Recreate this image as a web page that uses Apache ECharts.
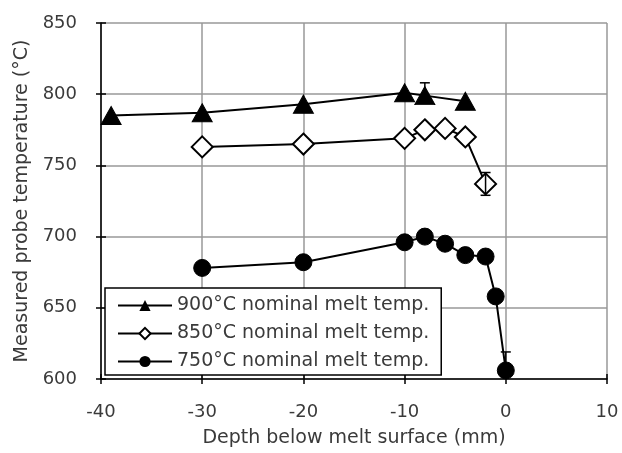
<!DOCTYPE html>
<html>
<head>
<meta charset="utf-8">
<script src="https://cdn.jsdelivr.net/npm/echarts@6/dist/echarts.min.js"></script>
<style>
  html, body { margin: 0; padding: 0; background: #fff; }
  #chart { width: 622px; height: 453px; }
</style>
</head>
<body>
<div id="chart"></div>
<script>
// 数据
var seriesNames = ['900°C nominal melt temp.', '850°C nominal melt temp.', '750°C nominal melt temp.'];
var depth900 = [-39, -30, -20, -10, -8, -4];
var temp900 = [785, 787, 793, 801, 799, 795];
var depth850 = [-30, -20, -10, -8, -6, -4, -2];
var temp850 = [763, 765, 769, 775, 776, 770, 737];
var depth750 = [-30, -20, -10, -8, -6, -4, -2, -1, 0];
var temp750 = [678, 682, 696, 700, 695, 687, 686, 658, 606];
// 误差线 [x, 下限, 上限]
var errBars = [[-8, 797, 808], [-2, 729, 745], [-1, 655, 662], [0, 604, 619]];

function pairs(xs, ys) {
    return xs.map(function (x, i) { return [x, ys[i]]; });
}

var myChart = echarts.init(document.getElementById('chart'));
var font = '"DejaVu Sans", sans-serif';
var txt = '#3a3a3a';

var option = {
    animation: false,
    textStyle: { fontFamily: font },
    grid: { left: 101, right: 15, top: 23, bottom: 73 },
    legend: {
        orient: 'vertical',
        left: 105,
        top: 288,
        padding: [8, 12, 4, 12],
        borderColor: '#000',
        borderWidth: 1.5,
        backgroundColor: '#fff',
        itemWidth: 54,
        itemHeight: 14,
        itemGap: 9,
        textStyle: { fontSize: 19, color: txt, fontFamily: font },
        data: seriesNames
    },
    xAxis: [{
        type: 'value', min: -40, max: 10, interval: 10,
        name: 'Depth below melt surface (mm)',
        nameLocation: 'middle', nameGap: 50,
        nameTextStyle: { fontSize: 19, color: txt },
        axisLine: { onZero: false, lineStyle: { color: '#000', width: 1.5 } },
        axisTick: { length: 5, lineStyle: { color: '#000', width: 1.5 } },
        axisLabel: { fontSize: 18, color: txt, margin: 24 },
        splitLine: { lineStyle: { color: '#999', width: 1.5 } }
    }, {
        type: 'value', min: -40, max: 10, interval: 10, position: 'bottom',
        axisLine: { show: false, onZero: false },
        axisTick: { inside: true, length: 5, lineStyle: { color: '#000', width: 1.5 } },
        axisLabel: { show: false },
        splitLine: { show: false }
    }],
    yAxis: [{
        type: 'value', min: 600, max: 850, interval: 50,
        name: 'Measured probe temperature (°C)',
        nameLocation: 'middle', nameGap: 68,
        nameTextStyle: { fontSize: 19, color: txt },
        axisLine: { show: true, onZero: false, lineStyle: { color: '#000', width: 1.5 } },
        axisTick: { show: true, length: 5, lineStyle: { color: '#000', width: 1.5 } },
        axisLabel: { fontSize: 18, color: txt, margin: 24 },
        splitLine: { lineStyle: { color: '#999', width: 1.5 } }
    }, {
        type: 'value', min: 600, max: 850, interval: 50, position: 'left',
        axisLine: { show: false, onZero: false },
        axisTick: { show: true, inside: true, length: 5, lineStyle: { color: '#000', width: 1.5 } },
        axisLabel: { show: false },
        splitLine: { show: false }
    }],
    series: [
        {
            name: seriesNames[0], type: 'line',
            data: pairs(depth900, temp900),
            symbol: 'triangle', symbolSize: [20, 18],
            lineStyle: { color: '#000', width: 2 },
            itemStyle: { color: '#000', borderColor: '#000' },
            z: 4
        },
        {
            name: seriesNames[1], type: 'line',
            data: pairs(depth850, temp850),
            symbol: 'diamond', symbolSize: [21, 21],
            lineStyle: { color: '#000', width: 2 },
            itemStyle: { color: '#fff', borderColor: '#000', borderWidth: 2 },
            z: 3
        },
        {
            name: seriesNames[2], type: 'line',
            data: pairs(depth750, temp750),
            symbol: 'circle', symbolSize: 17,
            lineStyle: { color: '#000', width: 2 },
            itemStyle: { color: '#000', borderColor: '#000' },
            z: 4
        },
        {
            type: 'custom', z: 5, silent: true,
            data: errBars,
            renderItem: function (params, api) {
                var lo = api.coord([api.value(0), api.value(1)]);
                var hi = api.coord([api.value(0), api.value(2)]);
                var w = 5;
                var st = { stroke: '#000', lineWidth: 1.5 };
                return {
                    type: 'group',
                    children: [
                        { type: 'line', shape: { x1: lo[0], y1: lo[1], x2: hi[0], y2: hi[1] }, style: st },
                        { type: 'line', shape: { x1: hi[0] - w, y1: hi[1], x2: hi[0] + w, y2: hi[1] }, style: st },
                        { type: 'line', shape: { x1: lo[0] - w, y1: lo[1], x2: lo[0] + w, y2: lo[1] }, style: st }
                    ]
                };
            }
        }
    ]
};

myChart.setOption(option);
</script>
</body>
</html>
